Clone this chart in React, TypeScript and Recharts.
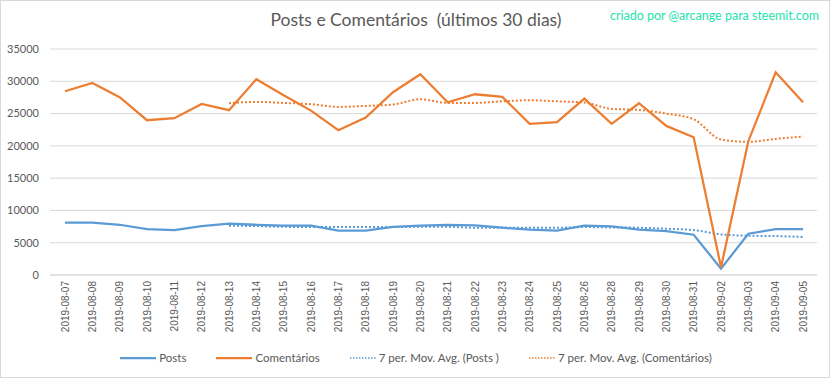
import { LineChart, Line, XAxis, YAxis, CartesianGrid } from 'recharts';

const dates = [
  '2019-08-07', '2019-08-08', '2019-08-09', '2019-08-10', '2019-08-11', '2019-08-12', '2019-08-13',
  '2019-08-14', '2019-08-15', '2019-08-16', '2019-08-17', '2019-08-18', '2019-08-19', '2019-08-20',
  '2019-08-21', '2019-08-22', '2019-08-23', '2019-08-24', '2019-08-25', '2019-08-26', '2019-08-28',
  '2019-08-29', '2019-08-30', '2019-08-31', '2019-09-02', '2019-09-03', '2019-09-04', '2019-09-05',
];

const posts = [
  8100, 8100, 7780, 7110, 6960, 7580, 7940,
  7780, 7630, 7630, 6860, 6860, 7470, 7630,
  7780, 7680, 7320, 7010, 6860, 7630, 7530,
  7010, 6800, 6240, 980, 6390, 7110, 7110,
];

const comentarios = [
  28450, 29740, 27530, 23970, 24280, 26490, 25520,
  30310, 27840, 25460, 22420, 24380, 28300, 31080,
  26750, 27990, 27580, 23400, 23660, 27320, 23400,
  26600, 23090, 21340, 1200, 20720, 31390, 26750,
];

// 7 per. moving averages (none for the first 6 days)
const postsAvg = [
  null, null, null, null, null, null, 7630,
  7580, 7470, 7420, 7420, 7420, 7420, 7470,
  7470, 7320, 7320, 7320, 7320, 7420, 7370,
  7320, 7170, 6960, 6290, 6080, 6030, 5880,
];

const comentariosAvg = [
  null, null, null, null, null, null, 26600,
  26800, 26650, 26450, 26030, 26190, 26400, 27220,
  26650, 26650, 26900, 27060, 26900, 26700, 25720,
  25570, 25000, 24120, 20980, 20620, 21080, 21440,
];

const yTicks = [0, 5000, 10000, 15000, 20000, 25000, 30000, 35000];

const BLUE = '#5B9BD5';
const ORANGE = '#ED7D31';
const TEXT = '#595959';
const GRID = '#D9D9D9';
const FONT = 'Lato, "Open Sans", sans-serif';

const data = dates.map((d, i) => ({
  date: d,
  posts: posts[i],
  comentarios: comentarios[i],
  postsAvg: postsAvg[i],
  comentariosAvg: comentariosAvg[i],
}));

const DateTick = (props: any) => {
  const { x, y, payload } = props;
  const ty = y - 2;
  return (
    <text
      x={x}
      y={ty}
      transform={`rotate(-90 ${x} ${ty})`}
      textAnchor="end"
      dominantBaseline="central"
      fontSize={10}
      fontFamily='"Liberation Sans", Arial, sans-serif'
      fill={TEXT}
    >
      {payload.value}
    </text>
  );
};

const legendItems = [
  { label: 'Posts', color: BLUE, dotted: false },
  { label: 'Comentários', color: ORANGE, dotted: false },
  { label: '7 per. Mov. Avg. (Posts )', color: BLUE, dotted: true },
  { label: '7 per. Mov. Avg. (Comentários)', color: ORANGE, dotted: true },
];

export default function App() {
  return (
    <div
      style={{
        position: 'absolute',
        left: 0,
        top: 0,
        width: 830,
        height: 378,
        boxSizing: 'border-box',
        border: `1px solid ${GRID}`,
        background: '#fff',
        fontFamily: FONT,
      }}
    >
      <div
        style={{
          position: 'absolute',
          top: 8,
          left: 0,
          width: 830,
          textAlign: 'center',
          fontSize: 17.5,
          color: TEXT,
          whiteSpace: 'pre',
          lineHeight: '22px',
        }}
      >
        {'Posts e Comentários  (últimos 30 dias)'}
      </div>
      <div
        style={{
          position: 'absolute',
          top: 7,
          right: 10,
          fontSize: 12.5,
          color: '#1DE3AE',
          lineHeight: '16px',
        }}
      >
        criado por @arcange para steemit.com
      </div>

      <div style={{ position: 'absolute', left: -1, top: -1 }}>
        <LineChart width={832} height={378} data={data} margin={{ top: 49, right: 15, bottom: 43, left: 0 }}>
          <CartesianGrid vertical={false} stroke={GRID} strokeWidth={1} />
          <XAxis
            dataKey="date"
            interval={0}
            height={60}
            padding={{ left: 15, right: 14 }}
            axisLine={{ stroke: GRID }}
            tickLine={false}
            tick={<DateTick />}
          />
          <YAxis
            width={50}
            domain={[0, 35000]}
            ticks={yTicks}
            axisLine={false}
            tickLine={false}
            tickMargin={5}
            tick={{ fontSize: 11, fill: TEXT, fontFamily: FONT }}
          />
          <Line
            dataKey="postsAvg"
            type="monotone"
            stroke={BLUE}
            strokeWidth={2}
            strokeDasharray="2 2"
            dot={false}
            activeDot={false}
            isAnimationActive={false}
          />
          <Line
            dataKey="comentariosAvg"
            type="monotone"
            stroke={ORANGE}
            strokeWidth={2}
            strokeDasharray="2 2"
            dot={false}
            activeDot={false}
            isAnimationActive={false}
          />
          <Line
            dataKey="posts"
            type="linear"
            stroke={BLUE}
            strokeWidth={2.25}
            dot={false}
            activeDot={false}
            isAnimationActive={false}
          />
          <Line
            dataKey="comentarios"
            type="linear"
            stroke={ORANGE}
            strokeWidth={2.25}
            dot={false}
            activeDot={false}
            isAnimationActive={false}
          />
        </LineChart>
      </div>

      <div
        style={{
          position: 'absolute',
          top: 350,
          left: 0,
          width: 830,
          display: 'flex',
          justifyContent: 'center',
          gap: 30,
          fontSize: 11.5,
          color: TEXT,
          lineHeight: '14px',
        }}
      >
        {legendItems.map((it) => (
          <div key={it.label} style={{ display: 'flex', alignItems: 'center', gap: 3 }}>
            <svg width={it.dotted ? 26 : 36} height={6}>
              <line
                x1={0}
                y1={3}
                x2={it.dotted ? 26 : 36}
                y2={3}
                stroke={it.color}
                strokeWidth={it.dotted ? 1.5 : 2.25}
                strokeDasharray={it.dotted ? '1.5 1.5' : undefined}
              />
            </svg>
            <span>{it.label}</span>
          </div>
        ))}
      </div>
    </div>
  );
}
